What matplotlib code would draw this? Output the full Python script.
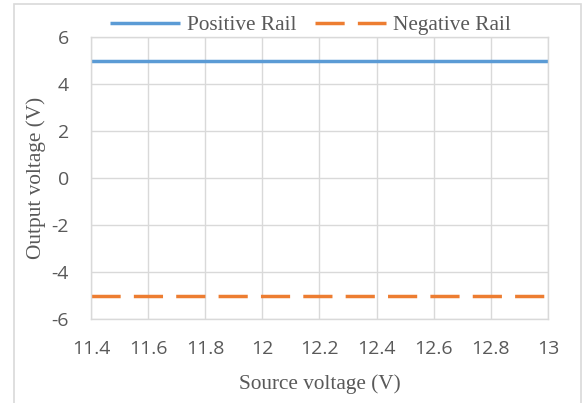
import matplotlib.pyplot as plt
from matplotlib.patches import Rectangle

# -----------------------------
# DATA
# -----------------------------

source_voltage = [11.4, 11.6, 11.8, 12.0, 12.2, 12.4, 12.6, 12.8, 13.0]
positive_rail = [5, 5, 5, 5, 5, 5, 5, 5, 5]
negative_rail = [-5, -5, -5, -5, -5, -5, -5, -5, -5]

x_ticks = [11.4, 11.6, 11.8, 12.0, 12.2, 12.4, 12.6, 12.8, 13.0]
x_tick_labels = ["11.4", "11.6", "11.8", "12", "12.2", "12.4", "12.6", "12.8", "13"]
y_ticks = [-6, -4, -2, 0, 2, 4, 6]
y_tick_labels = ["-6", "-4", "-2", "0", "2", "4", "6"]

# -----------------------------
# FIGURE
# -----------------------------

W, H = 587, 403
fig = plt.figure(figsize=(W / 100, H / 100), dpi=100)

# chart area border
fig.patches.append(Rectangle((14 / W, -0.05), (581 - 14) / W, 1.05 - 4 / H,
                             transform=fig.transFigure, fill=False,
                             edgecolor="#D9D9D9", linewidth=1.2))

ax = fig.add_axes([91 / W, 1 - 319 / H, (548 - 91) / W, (319 - 37) / H])

blue = "#5B9BD5"
orange = "#ED7D31"

ax.plot(source_voltage, positive_rail, color=blue, linewidth=2.5,
        solid_capstyle="butt", label="Positive Rail")
ax.plot(source_voltage, negative_rail, color=orange, linewidth=2.5,
        dashes=(8.4, 3.8), dash_capstyle="butt", label="Negative Rail")

ax.set_xlim(11.4, 13.0)
ax.set_ylim(-6, 6)
ax.set_xticks(x_ticks)
ax.set_xticklabels(x_tick_labels)
ax.set_yticks(y_ticks)
ax.set_yticklabels(y_tick_labels)

ax.grid(True, color="#D9D9D9", linewidth=1.0)
ax.set_axisbelow(True)
for side in ax.spines.values():
    side.set_color("#D9D9D9")
    side.set_linewidth(1.0)

ax.tick_params(length=0, colors="#595959", labelsize=14)
ax.tick_params(axis="x", pad=15)
ax.tick_params(axis="y", pad=16)
for lbl in ax.get_xticklabels() + ax.get_yticklabels():
    lbl.set_fontfamily("Open Sans")

ax.set_xlabel("Source voltage (V)", fontsize=15.3, family="Liberation Serif",
              color="#595959", labelpad=12)
ax.set_ylabel("Output voltage (V)", fontsize=15.3, family="Liberation Serif",
              color="#595959", labelpad=3.5)

leg = fig.legend(loc="center", bbox_to_anchor=(310 / W, 1 - 25 / H), ncol=2,
                 frameon=False, handlelength=3.3, handletextpad=0.33,
                 columnspacing=0.9,
                 prop={"family": "Liberation Serif", "size": 15.3})
for t in leg.get_texts():
    t.set_color("#595959")

fig.savefig("out.png", dpi=100)
